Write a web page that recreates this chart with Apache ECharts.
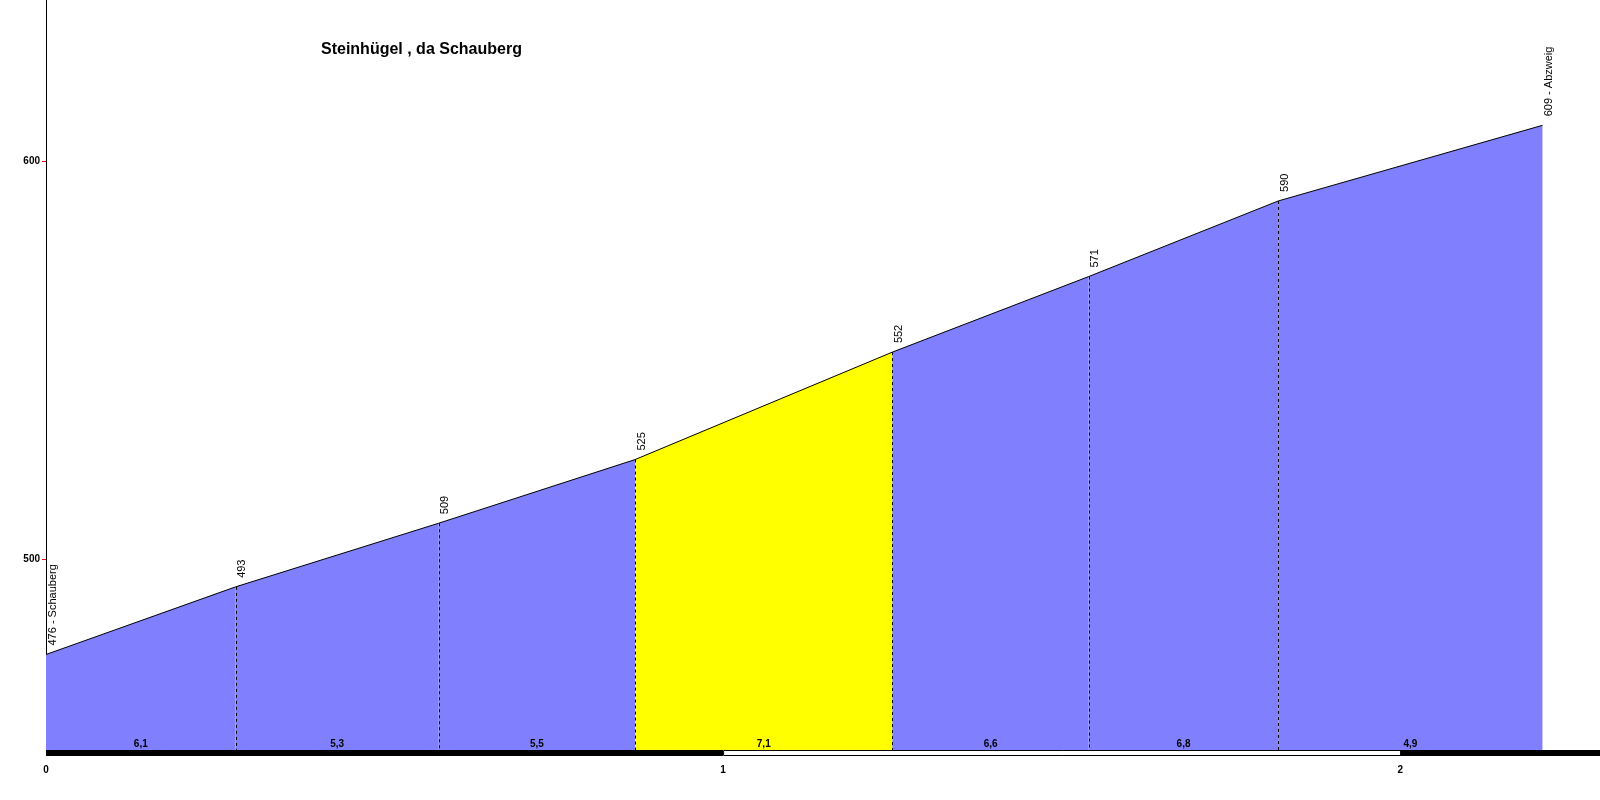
<!DOCTYPE html>
<html><head><meta charset="utf-8">
<script src="https://cdn.jsdelivr.net/npm/echarts@6/dist/echarts.min.js"></script>
<style>html,body{margin:0;padding:0;background:#fff}#c{width:1600px;height:800px}</style>
</head><body><div id="c"></div>
<script>
const titleText = 'Steinhügel , da Schauberg';
const distances = [0, 0.28, 0.58, 0.87, 1.25, 1.54, 1.82, 2.21];
const elevations = [476, 493, 509, 525, 552, 571, 590, 609];
const pointNames = ['Schauberg', '', '', '', '', '', '', 'Abzweig'];
const gradients = ['6,1', '5,3', '5,5', '7,1', '6,6', '6,8', '4,9'];
const yTicks = [500, 600];
const xTicks = [0, 1, 2];
const kmBands = [[0, 1], [1, 2], [2, 2.295]];
const highlightSegment = 3;

const Y_MIN = 452, Y_MAX = 640.5, X_MIN = 0, X_MAX = 2.295;
const FONT = '"Liberation Sans", Arial, sans-serif';
const BLUE = '#8080ff', YELLOW = '#ffff00';

const segData = gradients.map((g, i) => [distances[i], elevations[i], distances[i + 1], elevations[i + 1], g]);
const innerPts = distances.slice(1, -1).map((d, i) => [d, elevations[i + 1]]);
const labelData = distances.map((d, i) => [d, elevations[i], pointNames[i] ? elevations[i] + ' - ' + pointNames[i] : String(elevations[i])]);

const chart = echarts.init(document.getElementById('c'));
chart.setOption({
  animation: false,
  title: { text: titleText, left: 321, top: 42, padding: 0,
    textStyle: { fontFamily: FONT, fontSize: 16, fontWeight: 'bold', color: '#000' } },
  grid: { left: 46, right: 0, top: 0, bottom: 50 },
  xAxis: { type: 'value', min: X_MIN, max: X_MAX,
    axisLine: { show: false }, axisTick: { show: false }, splitLine: { show: false },
    axisLabel: { customValues: xTicks, margin: 15, fontFamily: FONT, fontSize: 10, fontWeight: 'bold', color: '#000' } },
  yAxis: { type: 'value', min: Y_MIN, max: Y_MAX,
    axisLine: { show: true, lineStyle: { color: '#000', width: 1 } },
    axisTick: { show: true, customValues: yTicks, length: 4, lineStyle: { color: '#ff0000', width: 1 } },
    splitLine: { show: false },
    axisLabel: { customValues: yTicks, margin: 6, fontFamily: FONT, fontSize: 10, fontWeight: 'bold', color: '#000' } },
  series: [
    { type: 'custom', name: 'fill', z: 1, data: segData, encode: { x: [0, 2], y: [1, 3] },
      renderItem: function (params, api) {
        const p0 = api.coord([api.value(0), api.value(1)]);
        const p1 = api.coord([api.value(2), api.value(3)]);
        const b1 = api.coord([api.value(2), Y_MIN]);
        const b0 = api.coord([api.value(0), Y_MIN]);
        return { type: 'polygon', shape: { points: [p0, p1, b1, b0] },
          style: { fill: params.dataIndex === highlightSegment ? YELLOW : BLUE, stroke: null } };
      } },
    { type: 'custom', name: 'dashes', z: 2, data: innerPts, encode: { x: 0, y: 1 },
      renderItem: function (params, api) {
        const p = api.coord([api.value(0), api.value(1)]);
        const b = api.coord([api.value(0), Y_MIN]);
        return { type: 'line', shape: { x1: Math.round(p[0]) + 0.5, y1: p[1], x2: Math.round(p[0]) + 0.5, y2: b[1] },
          style: { stroke: '#000', lineWidth: 1, lineDash: [3, 3] } };
      } },
    { type: 'line', name: 'profile', z: 3, symbol: 'none', data: distances.map((d, i) => [d, elevations[i]]),
      lineStyle: { color: '#000', width: 1 } },
    { type: 'custom', name: 'pointLabels', z: 4, data: labelData, encode: { x: 0, y: 1 },
      renderItem: function (params, api) {
        const p = api.coord([api.value(0), api.value(1)]);
        const txt = labelData[params.dataIndex][2];
        return { type: 'text', x: p[0] + 1, y: p[1] - 9, rotation: Math.PI / 2,
          style: { text: txt, x: 0, y: 0, fill: '#000', font: '11px ' + FONT,
            align: 'left', verticalAlign: 'top', textAlign: 'left', textVerticalAlign: 'top' } };
      } },
    { type: 'custom', name: 'gradLabels', z: 4, data: segData, encode: { x: [0, 2], y: [1, 3] },
      renderItem: function (params, api) {
        const p = api.coord([(api.value(0) + api.value(2)) / 2, Y_MIN]);
        return { type: 'text', x: p[0], y: p[1] - 1,
          style: { text: segData[params.dataIndex][4], x: 0, y: 0, fill: '#000', font: 'bold 10px ' + FONT,
            align: 'center', verticalAlign: 'bottom', textAlign: 'center', textVerticalAlign: 'bottom' } };
      } },
    { type: 'custom', name: 'kmBar', z: 5, clip: false, data: kmBands, encode: { x: [0, 1] },
      renderItem: function (params, api) {
        const a = api.coord([api.value(0), Y_MIN]);
        const b = api.coord([api.value(1), Y_MIN]);
        const odd = params.dataIndex % 2 === 1;
        return { type: 'rect', shape: { x: a[0] + (odd ? 0.5 : 0), y: a[1] + (odd ? 0.5 : 0), width: b[0] - a[0], height: odd ? 5 : 6 },
          style: { fill: odd ? '#fff' : '#000', stroke: odd ? '#000' : null, lineWidth: 1 } };
      } }
  ]
});
</script></body></html>
